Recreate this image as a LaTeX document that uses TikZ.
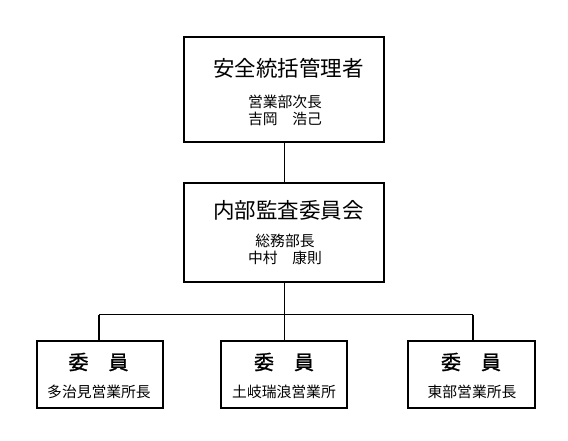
\documentclass[tikz,border=0pt]{standalone}
\usepackage{fontspec}
\newfontfamily\jp{Noto Sans CJK JP}
\newfontfamily\jpm[FakeBold=1.2]{Noto Sans CJK JP}
\begin{document}
\begin{tikzpicture}[x=1pt,y=-1pt,
  box/.style={draw=black,line width=2pt,fill=white},
  conn/.style={draw=black,line width=1.4pt},
  ttl/.style={font=\jp\fontsize{21.5}{24}\selectfont},
  sub/.style={font=\jp\fontsize{14.8}{17.5}\selectfont,align=center},
  mem/.style={font=\jpm\fontsize{20}{22}\selectfont}]
\useasboundingbox (0,0) rectangle (568,440);
% boxes
\draw[box] (184,37) rectangle (384,142);
\draw[box] (184,183) rectangle (384,282);
\draw[box] (37,341) rectangle (163,408);
\draw[box] (221,341) rectangle (347,408);
\draw[box] (408,341) rectangle (535,408);
% named anchors
\coordinate (topB) at (284.5,142);
\coordinate (midT) at (284.5,183);
\coordinate (midB) at (284.5,282);
\coordinate (junc) at (284.5,314.5);
\coordinate (jl) at (99,314.5);
\coordinate (jr) at (473,314.5);
\coordinate (lT) at (99,341);
\coordinate (cT) at (284.5,341);
\coordinate (rT) at (473,341);
\draw[conn] (topB) -- (midT);
\draw[conn] (midB) -- (junc);
\draw[conn] (jl) -- (jr);
\draw[conn] (jl) -- (lT);
\draw[conn] (junc) -- (cT);
\draw[conn] (jr) -- (rT);
% texts
\node[ttl] (t1) at (288.5,68) {安全統括管理者};
\node[sub] (s1) at (285,110.5) {営業部次長\\吉岡　浩己};
\node[ttl] (t2) at (288.5,210) {内部監査委員会};
\node[sub] (s2) at (285,249.5) {総務部長\\中村　康則};
\node[mem] (m1) at (98.5,362) {委　員};
\node[mem] (m2) at (284,362) {委　員};
\node[mem] (m3) at (471,362) {委　員};
\node[sub] (n1) at (99,392) {多治見営業所長};
\node[sub] (n2) at (284,392) {土岐瑞浪営業所};
\node[sub] (n3) at (472,392) {東部営業所長};
\end{tikzpicture}
\end{document}
